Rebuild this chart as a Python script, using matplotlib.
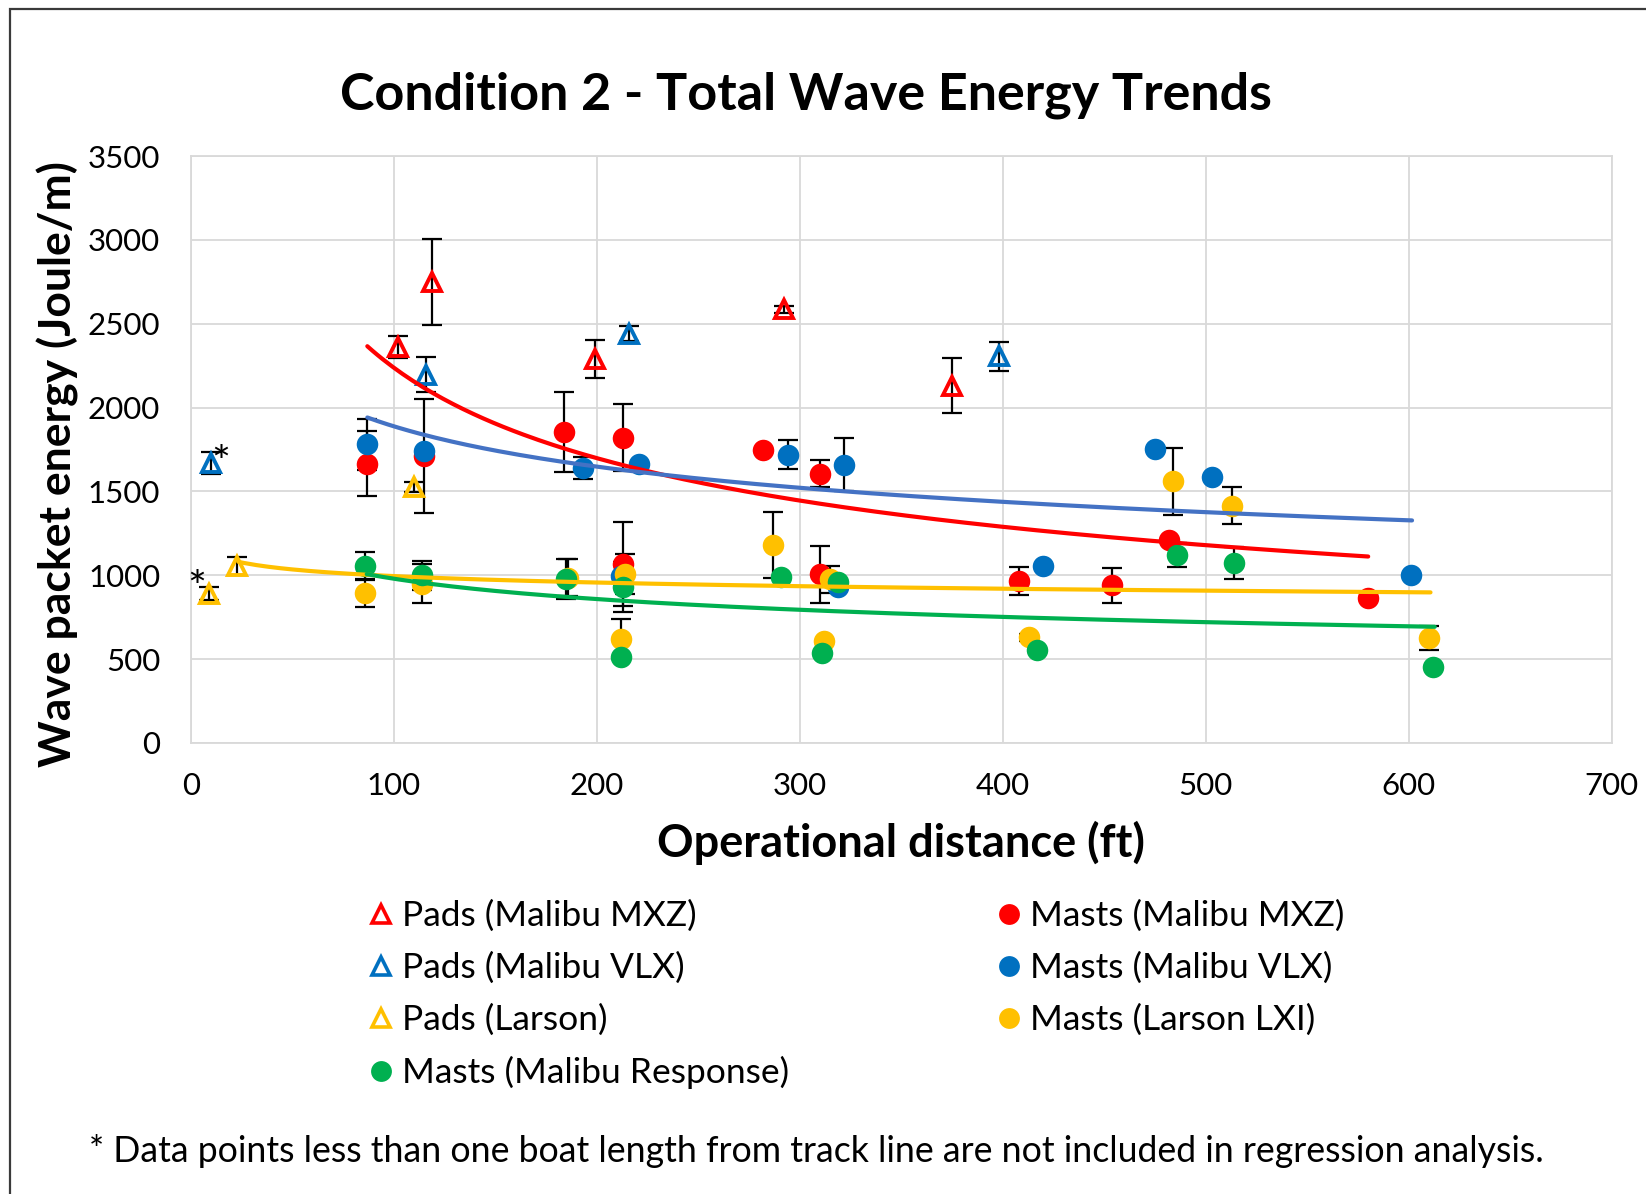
import numpy as np
import matplotlib
matplotlib.use("Agg")
import matplotlib.pyplot as plt
from matplotlib.lines import Line2D
from matplotlib.patches import Rectangle

# ---- data ----
# Pads (triangles)
pads_mxz_x = [102, 119, 199, 292, 375]
pads_mxz_y = [2360, 2750, 2290, 2585, 2130]
pads_mxz_err = [65, 255, 115, 20, 165]

pads_vlx_x = [10, 116, 216, 398]
pads_vlx_y = [1670, 2195, 2440, 2305]
pads_vlx_err = [65, 105, 45, 85]

pads_larson_x = [9, 23, 110]
pads_larson_y = [890, 1055, 1525]
pads_larson_err = [40, 55, 30]

# Masts (circles)
masts_mxz_x = [87, 115, 184, 213, 213, 282, 310, 310, 408, 454, 482, 580]
masts_mxz_y = [1665, 1710, 1855, 1820, 1065, 1745, 1605, 1005, 965, 940, 1210, 865]
masts_mxz_err = [195, 340, 240, 200, 250, 0, 80, 170, 85, 105, 0, 0]

masts_vlx_x = [87, 115, 193, 221, 212, 294, 322, 319, 420, 475, 503, 601]
masts_vlx_y = [1780, 1742, 1640, 1665, 997, 1720, 1660, 930, 1055, 1750, 1585, 1000]
masts_vlx_err = [150, 0, 65, 0, 0, 85, 160, 0, 0, 0, 0, 0]

masts_lxi_x = [86, 114, 186, 214, 212, 287, 315, 312, 413, 484, 513, 610]
masts_lxi_y = [895, 950, 985, 1007, 620, 1180, 975, 610, 630, 1560, 1415, 625]
masts_lxi_err = [85, 115, 110, 120, 120, 195, 80, 0, 20, 200, 110, 70]

masts_resp_x = [86, 114, 185, 213, 212, 291, 319, 311, 417, 486, 514, 612]
masts_resp_y = [1055, 1000, 980, 932, 515, 990, 960, 535, 555, 1120, 1075, 455]
masts_resp_err = [85, 85, 120, 150, 0, 0, 0, 0, 0, 70, 95, 0]

# power trendlines y = c * x^b  (coefficient, exponent, x start, x end)
trend_mxz = (13993, -0.398, 87, 580)
trend_vlx = (4670, -0.1966, 87, 601.6)
trend_larson = (1292, -0.0567, 23.5, 610.7)
trend_resp = (2361, -0.191, 86.7, 612.8)

RED = "#FF0000"
BLUE = "#0070C0"
YELLOW = "#FFC000"
GREEN = "#00B050"
BLUE_TREND = "#4472C4"

plt.rcParams["font.family"] = ["Lato", "DejaVu Sans"]

W, H = 1646, 1194
fig = plt.figure(figsize=(W / 100, H / 100), dpi=100)
ax = fig.add_axes([190.7 / W, 1 - 743 / H, (1611.8 - 190.7) / W, (743 - 156) / H])

# outer chart frame (only left/top edges visible in the crop)
fig.patches.append(Rectangle((10 / W, -1), 3, 1 + (1 - 8.5 / H), transform=fig.transFigure,
                             fill=False, edgecolor="#3a3a3a", linewidth=1.6))

ms = 15.5
tri_ms = 13.5

def draw_errors(x, y, err):
    ax.errorbar(x, y, yerr=err, fmt="none", ecolor="black", elinewidth=1.6,
                capsize=7, capthick=1.6, zorder=2)

for x, y, e in [(pads_mxz_x, pads_mxz_y, pads_mxz_err),
                (pads_vlx_x, pads_vlx_y, pads_vlx_err),
                (pads_larson_x, pads_larson_y, pads_larson_err),
                (masts_mxz_x, masts_mxz_y, masts_mxz_err),
                (masts_vlx_x, masts_vlx_y, masts_vlx_err),
                (masts_lxi_x, masts_lxi_y, masts_lxi_err),
                (masts_resp_x, masts_resp_y, masts_resp_err)]:
    draw_errors(x, y, e)

ax.plot(pads_mxz_x, pads_mxz_y, ls="none", marker="^", ms=tri_ms, mfc="none",
        mec=RED, mew=2.8, zorder=3)
ax.plot(pads_vlx_x, pads_vlx_y, ls="none", marker="^", ms=tri_ms, mfc="none",
        mec=BLUE, mew=2.8, zorder=3)
ax.plot(pads_larson_x, pads_larson_y, ls="none", marker="^", ms=tri_ms, mfc="none",
        mec=YELLOW, mew=2.8, zorder=3)
ax.plot(masts_mxz_x, masts_mxz_y, ls="none", marker="o", ms=ms, color=RED, mew=0, zorder=3)
ax.plot(masts_vlx_x, masts_vlx_y, ls="none", marker="o", ms=ms, color=BLUE, mew=0, zorder=3)
ax.plot(masts_lxi_x, masts_lxi_y, ls="none", marker="o", ms=ms, color=YELLOW, mew=0, zorder=3)
ax.plot(masts_resp_x, masts_resp_y, ls="none", marker="o", ms=ms, color=GREEN, mew=0, zorder=3)

# trendlines
for (c, b, x0, x1), col in [(trend_mxz, RED), (trend_vlx, BLUE_TREND),
                            (trend_larson, YELLOW), (trend_resp, GREEN)]:
    xs = np.linspace(x0, x1, 200)
    ax.plot(xs, c * xs ** b, color=col, lw=3, solid_capstyle="round", zorder=4)

# asterisks for points excluded from regression
ax.annotate("*", (pads_vlx_x[0], pads_vlx_y[0]), xytext=(0.5, -1), textcoords="offset points",
            fontsize=32, ha="left", va="center")
ax.annotate("*", (pads_larson_x[0], pads_larson_y[0]), xytext=(-2, 3), textcoords="offset points",
            fontsize=32, ha="right", va="center")

ax.set_xlim(0, 700)
ax.set_ylim(0, 3500)
ax.set_xticks(np.arange(0, 701, 100))
ax.set_yticks(np.arange(0, 3501, 500))
ax.grid(True, color="#D9D9D9", lw=1.3, zorder=0)
ax.set_axisbelow(True)
for s in ax.spines.values():
    s.set_color("#D9D9D9")
    s.set_linewidth(1.3)
ax.tick_params(length=0, labelsize=22.5, colors="black")
ax.tick_params(axis="y", pad=22)
ax.tick_params(axis="x", pad=21)

fig.text(806 / W, 1 - 95 / H, "Condition 2 - Total Wave Energy Trends", ha="center", va="center",
         fontsize=37.5, fontweight="bold")
fig.text(58 / W, 1 - 464 / H, "Wave packet energy (Joule/m)", ha="center", va="center",
         rotation=90, fontsize=32, fontweight="bold")
fig.text(901 / W, 1 - 843 / H, "Operational distance (ft)", ha="center", va="center",
         fontsize=32.5, fontweight="bold")

handles = [
    Line2D([], [], ls="none", marker="^", ms=13, mfc="none", mec=RED, mew=2.6),
    Line2D([], [], ls="none", marker="^", ms=13, mfc="none", mec=BLUE, mew=2.6),
    Line2D([], [], ls="none", marker="^", ms=13, mfc="none", mec=YELLOW, mew=2.6),
    Line2D([], [], ls="none", marker="o", ms=15, color=GREEN, mew=0),
    Line2D([], [], ls="none", marker="o", ms=15, color=RED, mew=0),
    Line2D([], [], ls="none", marker="o", ms=15, color=BLUE, mew=0),
    Line2D([], [], ls="none", marker="o", ms=15, color=YELLOW, mew=0),
]
labels = ["Pads (Malibu MXZ)", "Pads (Malibu VLX)", "Pads (Larson)", "Masts (Malibu Response)",
          "Masts (Malibu MXZ)", "Masts (Malibu VLX)", "Masts (Larson LXI)"]
fig.legend(handles, labels, loc="upper left", bbox_to_anchor=(349 / W, 1 - 882 / H), ncol=2,
           frameon=False, fontsize=25.5, handlelength=0.8, handletextpad=0.2,
           columnspacing=5.8, labelspacing=0.56, borderpad=0)

fig.text(89 / W, 1 - 1151 / H,
         "* Data points less than one boat length from track line are not included in regression analysis.",
         ha="left", va="center", fontsize=25.7)

fig.savefig("out.png", dpi=100)
